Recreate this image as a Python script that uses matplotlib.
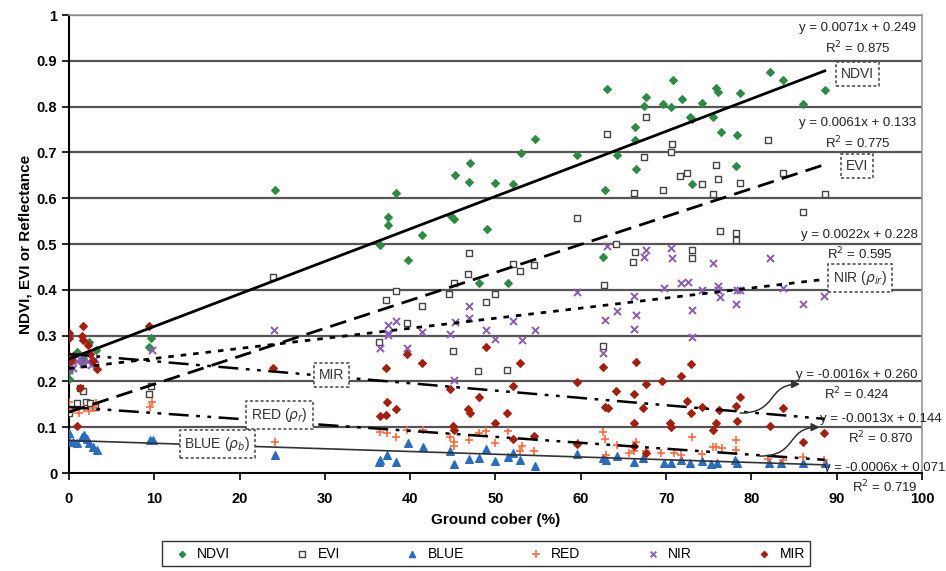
import matplotlib
matplotlib.use("Agg")
import matplotlib.pyplot as plt
from matplotlib.patches import FancyArrowPatch
from matplotlib.path import Path
import numpy as np

plt.rcParams['font.family'] = ['Liberation Sans', 'DejaVu Sans']

# ground cover (%) and values
ndvi_x = [0, 0, 0, 0.9, 1.5, 1.7, 2.3, 3.2, 9.6, 9.4, 24.1,
          36.5, 37.4, 37.4, 38.3, 39.7, 41.4, 44.8, 45.1, 45.2, 46.9, 47.0, 48.1, 49.0,
          50.0, 51.5, 52.1, 53.0, 54.6, 59.6, 62.6, 62.8, 63.1, 64.2, 66.3, 66.3, 66.5,
          67.4, 67.6, 69.6, 70.6, 70.8, 71.9, 72.8, 73.0, 73.0, 74.2, 75.5, 75.9, 76.1,
          76.4, 78.2, 78.3, 78.7, 82.2, 83.7, 86.1, 88.6]
ndvi_y = [0.205, 0.222, 0.248, 0.265, 0.240, 0.252, 0.285, 0.268, 0.294, 0.276, 0.619,
          0.498, 0.560, 0.541, 0.611, 0.465, 0.520, 0.561, 0.555, 0.650, 0.636, 0.676, 0.415, 0.533,
          0.633, 0.415, 0.630, 0.698, 0.730, 0.694, 0.472, 0.619, 0.838, 0.694, 0.756, 0.727, 0.663,
          0.801, 0.821, 0.806, 0.799, 0.858, 0.817, 0.778, 0.774, 0.631, 0.807, 0.778, 0.841, 0.833,
          0.745, 0.671, 0.738, 0.830, 0.876, 0.858, 0.806, 0.836]

evi_x = [0, 0, 1.0, 1.3, 1.7, 2.0, 2.5, 3.0, 9.4, 9.6, 23.9,
         36.3, 37.2, 38.3, 39.6, 41.4, 44.6, 45.0, 45.1, 46.8, 46.9, 48.0, 48.9, 49.9,
         51.4, 52.0, 52.9, 54.5, 59.6, 62.6, 62.7, 63.1, 64.1, 66.1, 66.2, 66.4, 67.4,
         67.6, 69.6, 70.6, 70.7, 71.6, 72.4, 73.0, 73.0, 74.2, 75.5, 75.9, 76.1, 76.3,
         78.2, 78.2, 78.7, 82.0, 83.7, 86.1, 88.6]
evi_y = [0.131, 0.140, 0.153, 0.185, 0.178, 0.156, 0.153, 0.145, 0.172, 0.190, 0.429,
         0.286, 0.378, 0.397, 0.328, 0.365, 0.391, 0.267, 0.414, 0.434, 0.480, 0.223, 0.374, 0.391,
         0.225, 0.456, 0.442, 0.454, 0.557, 0.278, 0.410, 0.740, 0.500, 0.460, 0.612, 0.482, 0.690,
         0.777, 0.618, 0.700, 0.718, 0.649, 0.654, 0.487, 0.469, 0.631, 0.609, 0.672, 0.641, 0.528,
         0.525, 0.508, 0.633, 0.727, 0.654, 0.569, 0.609]

blue_x = [0, 0, 0.5, 1.0, 1.5, 1.8, 2.1, 2.3, 2.8, 3.3, 9.5, 9.8, 24.1,
          36.4, 36.5, 37.3, 38.3, 39.7, 41.5, 44.7, 45.1, 46.9, 48.1, 48.9, 49.9, 51.5,
          52.0, 52.9, 54.6, 59.5, 62.6, 63.0, 64.2, 66.2, 67.3, 69.7, 70.6, 71.8, 72.8,
          74.2, 75.3, 76.0, 78.1, 78.3, 82.1, 83.5, 86.1, 88.6]
blue_y = [0.088, 0.070, 0.068, 0.066, 0.078, 0.082, 0.075, 0.065, 0.056, 0.050, 0.072, 0.072, 0.039,
          0.025, 0.028, 0.039, 0.025, 0.065, 0.057, 0.047, 0.020, 0.030, 0.032, 0.052, 0.027, 0.034,
          0.044, 0.028, 0.015, 0.041, 0.032, 0.028, 0.037, 0.025, 0.032, 0.022, 0.021, 0.028, 0.022,
          0.027, 0.020, 0.021, 0.028, 0.021, 0.021, 0.021, 0.022, 0.021]

red_x = [0, 0, 0.5, 1.2, 1.8, 2.4, 2.9, 3.2, 9.5, 9.7, 24.1,
         36.5, 37.3, 38.3, 39.6, 41.5, 44.7, 45.1, 45.1, 46.9, 48.1, 48.9, 49.9, 51.5,
         52.9, 53.1, 54.5, 59.7, 62.6, 62.8, 63.0, 64.2, 65.6, 66.2, 66.5, 67.6, 69.4,
         70.9, 71.8, 73.0, 74.2, 75.5, 75.9, 76.5, 78.2, 78.2, 82.0, 83.7, 86.1, 88.5]
red_y = [0.155, 0.145, 0.138, 0.131, 0.142, 0.135, 0.142, 0.153, 0.145, 0.155, 0.068,
         0.090, 0.088, 0.078, 0.095, 0.094, 0.079, 0.068, 0.059, 0.071, 0.088, 0.092, 0.065, 0.092,
         0.049, 0.060, 0.047, 0.065, 0.089, 0.074, 0.039, 0.061, 0.043, 0.047, 0.067, 0.048, 0.043,
         0.044, 0.039, 0.078, 0.041, 0.057, 0.056, 0.054, 0.072, 0.050, 0.030, 0.028, 0.036, 0.028]

nir_x = [0, 0, 0.5, 0.9, 1.3, 1.7, 2.2, 2.6, 3.0, 9.7, 24.0,
         36.5, 37.4, 37.4, 37.4, 38.3, 39.6, 41.4, 44.7, 45.1, 45.3, 46.9, 46.9, 48.9,
         49.9, 52.0, 53.1, 54.6, 59.6, 62.6, 62.8, 63.1, 64.2, 66.2, 66.2, 66.5, 67.4,
         67.6, 69.7, 70.6, 70.7, 71.8, 72.6, 73.0, 73.0, 74.2, 75.5, 76.1, 76.1, 76.3,
         78.2, 78.3, 78.7, 82.2, 83.7, 86.1, 88.5]
nir_y = [0.240, 0.225, 0.230, 0.245, 0.250, 0.238, 0.245, 0.235, 0.250, 0.269, 0.312,
         0.274, 0.323, 0.305, 0.301, 0.333, 0.274, 0.307, 0.303, 0.203, 0.330, 0.365, 0.338, 0.312,
         0.292, 0.333, 0.290, 0.312, 0.396, 0.263, 0.334, 0.496, 0.354, 0.387, 0.314, 0.344, 0.472,
         0.487, 0.405, 0.491, 0.469, 0.414, 0.418, 0.356, 0.296, 0.400, 0.458, 0.408, 0.400, 0.385,
         0.369, 0.400, 0.400, 0.469, 0.403, 0.369, 0.386]

mir_x = [0, 0, 0.2, 0.5, 1.0, 1.3, 1.5, 1.7, 1.7, 2.2, 2.5, 2.8, 3.3, 9.4, 23.9,
         36.5, 37.2, 37.2, 37.3, 38.3, 39.6, 41.4, 44.7, 45.0, 45.1, 46.8, 47.0, 48.1,
         48.9, 49.9, 51.4, 52.0, 52.1, 52.9, 54.5, 59.6, 59.6, 62.6, 62.8, 63.2, 64.1,
         66.2, 66.2, 66.2, 66.5, 67.3, 67.6, 67.6, 69.5, 70.5, 70.6, 71.8, 72.5, 72.9,
         72.9, 74.2, 75.5, 75.9, 76.2, 78.2, 78.3, 78.7, 82.2, 83.7, 86.1, 88.5]
mir_y = [0.305, 0.295, 0.245, 0.255, 0.102, 0.185, 0.300, 0.320, 0.290, 0.280, 0.260, 0.245, 0.228, 0.320, 0.229,
         0.124, 0.229, 0.127, 0.154, 0.140, 0.260, 0.240, 0.183, 0.103, 0.095, 0.140, 0.132, 0.165,
         0.276, 0.110, 0.130, 0.189, 0.074, 0.241, 0.081, 0.198, 0.063, 0.231, 0.145, 0.143, 0.178,
         0.172, 0.110, 0.059, 0.243, 0.143, 0.194, 0.044, 0.200, 0.110, 0.101, 0.212, 0.158, 0.237,
         0.130, 0.145, 0.094, 0.110, 0.138, 0.146, 0.114, 0.167, 0.103, 0.143, 0.068, 0.087]

# trend lines as printed on the chart: slope, intercept, r2
fits = {
  'NDVI': (0.0071, 0.249, 0.875),
  'EVI':  (0.0061, 0.133, 0.775),
  'NIR':  (0.0022, 0.228, 0.595),
  'MIR':  (-0.0016, 0.260, 0.424),
  'RED':  (-0.0013, 0.144, 0.870),
  'BLUE': (-0.0006, 0.071, 0.719),
}
x_end = 88.6

fig = plt.figure(figsize=(9.46, 5.71), dpi=100)
ax = fig.add_axes([0.0729, 0.1716, 0.9017, 0.8021])

ax.set_xlim(0, 100)
ax.set_ylim(0, 1)
for yy in np.arange(0.1, 1.01, 0.1):
  ax.axhline(yy, color='#555555', lw=1.6, zorder=1)

# series
kw = dict(zorder=4, linewidths=1.0)
h_ndvi = ax.scatter(ndvi_x, ndvi_y, marker='D', s=15, color='#2e8b45', label='NDVI', **kw)
h_evi = ax.scatter(evi_x, evi_y, marker='s', s=22, facecolors='white', edgecolors='#444444', label='EVI', **kw)
h_blue = ax.scatter(blue_x, blue_y, marker='^', s=30, color='#2a6cc0', label='BLUE', **kw)
h_red = ax.scatter(red_x, red_y, marker='+', s=40, color='#ff6a3d', label='RED', zorder=4, linewidths=1.2)
h_nir = ax.scatter(nir_x, nir_y, marker='x', s=26, color='#8a5cb8', label='NIR', zorder=4, linewidths=1.4)
h_mir = ax.scatter(mir_x, mir_y, marker='D', s=15, color='#a3200f', label='MIR', **kw)

styles = {
  'NDVI': dict(ls='-', lw=2.0, color='black'),
  'EVI':  dict(ls=(0, (6, 3)), lw=2.0, color='black'),
  'NIR':  dict(ls=(0, (2, 2.5)), lw=2.0, color='black'),
  'MIR':  dict(ls=(0, (8, 3, 1.5, 3, 1.5, 3)), lw=1.8, color='black'),
  'RED':  dict(ls=(0, (8, 3, 1.5, 3, 1.5, 3)), lw=1.8, color='black'),
  'BLUE': dict(ls='-', lw=1.2, color='#333333'),
}
xx = np.array([0, x_end])
for name, (m, b, r2) in fits.items():
  ax.plot(xx, m*xx + b, zorder=5, **styles[name])

# equation labels
eqpos = {
  'NDVI': (92.5, 0.972, 0.928),
  'EVI':  (92.5, 0.764, 0.721),
  'NIR':  (92.7, 0.520, 0.478),
  'MIR':  (92.4, 0.214, 0.172),
  'RED':  (95.2, 0.118, 0.076),
  'BLUE': (95.6, 0.011, -0.030),
}
for name, (m, b, r2) in fits.items():
  x0, y1, y2 = eqpos[name]
  ax.text(x0, y1, 'y = %.4fx + %.3f' % (m, b), ha='center', va='center',
          fontsize=9.5, color='#222222', zorder=6, clip_on=False)
  ax.text(x0, y2, 'R$^2$ = %.3f' % r2, ha='center', va='center',
          fontsize=9.5, color='#222222', zorder=6, clip_on=False)

# boxed series names
box = dict(boxstyle='square,pad=0.35', fc='white', ec='#444444', ls=(0, (2, 1.5)), lw=1.1)
boxes = [('NDVI', 92.4, 0.871), ('EVI', 92.4, 0.670), (r'NIR ($\rho_{ir}$)', 92.7, 0.426),
         ('MIR', 30.8, 0.214), (r'RED ($\rho_r$)', 24.7, 0.127), (r'BLUE ($\rho_b$)', 17.4, 0.063)]
for txt, bx, by in boxes:
  ax.text(bx, by, txt, ha='center', va='center', fontsize=10, color='#333333', bbox=box, zorder=7)

# curved pointer arrows
for (sx, sy), (ex, ey) in [((78.7, 0.131), (85.7, 0.194)), ((81.0, 0.037), (88.0, 0.100))]:
  cx = (sx + ex)/2
  p = Path([(sx, sy), (cx + 1.0, sy), (cx - 0.5, ey), (ex, ey)],
           [Path.MOVETO, Path.CURVE4, Path.CURVE4, Path.CURVE4])
  ax.add_patch(FancyArrowPatch(path=p, arrowstyle='-|>', mutation_scale=12,
                               color='#333333', lw=1.1, zorder=6))

ax.set_xticks(np.arange(0, 101, 10))
ax.set_yticks(np.arange(0, 1.01, 0.1))
ax.set_yticklabels(['0'] + ['%.1f' % v for v in np.arange(0.1, 0.95, 0.1)] + ['1'])
ax.tick_params(direction='out', length=5, width=1.2, labelsize=10.5, colors='black')
for lab in ax.get_xticklabels() + ax.get_yticklabels():
  lab.set_fontweight('bold')
ax.xaxis.set_tick_params(pad=9)
for s in ['top', 'right']:
  ax.spines[s].set_color('#999999')
  ax.spines[s].set_linewidth(1.2)
for s in ['left', 'bottom']:
  ax.spines[s].set_linewidth(1.5)

ax.set_xlabel('Ground cober (%)', fontsize=11, fontweight='bold', labelpad=5)
ax.set_ylabel('NDVI, EVI or Reflectance', fontsize=11, fontweight='bold', labelpad=3)

leg = fig.legend(handles=[h_ndvi, h_evi, h_blue, h_red, h_nir, h_mir], loc='center',
                 bbox_to_anchor=(0.514, 0.03), ncol=6, frameon=True, fancybox=False,
                 edgecolor='black', fontsize=10, columnspacing=4.2, handletextpad=0.1,
                 markerscale=0.8, borderpad=0.4)
leg.get_frame().set_linewidth(1.0)

fig.savefig('out.png', dpi=100)
